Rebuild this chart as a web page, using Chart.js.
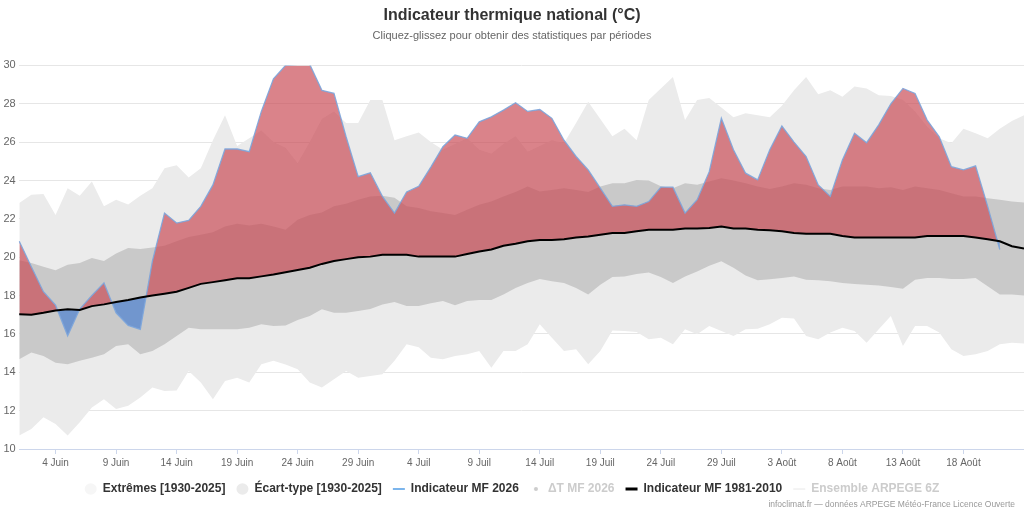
<!DOCTYPE html>
<html>
<head>
<meta charset="utf-8">
<title>Indicateur thermique national</title>
<script src="https://cdn.jsdelivr.net/npm/chart.js@4.4.1/dist/chart.umd.min.js"></script>
<style>
  html, body { margin: 0; padding: 0; background: #fff; }
  #wrap { width: 1024px; height: 512px; }
</style>
</head>
<body>
<div id="wrap"><canvas id="chart"></canvas></div>
<script>
// jours du 1er juin au 23 août
const months = [['Juin', 30], ['Juil', 31], ['Août', 23]];
const days = [];
months.forEach(([m, n]) => { for (let d = 1; d <= n; d++) days.push(d + ' ' + m); });

const tickLabels = ['4 Juin', '9 Juin', '14 Juin', '19 Juin', '24 Juin', '29 Juin', '4 Juil', '9 Juil',
  '14 Juil', '19 Juil', '24 Juil', '29 Juil', '3 Août', '8 Août', '13 Août', '18 Août'];

// Extrêmes [1930-2025]
const extLow = [10.7, 11.04, 11.65, 11.3, 10.7, 11.39, 12.17, 12.6, 12.08, 12.25,
  12.69, 13.2, 13.03, 13.05, 14.07, 13.47, 12.6, 13.55, 13.72, 13.47,
  14.42, 14.6, 14.4, 14.16, 13.47, 13.2, 13.64, 14.07, 13.72, 13.8,
  13.9, 14.6, 15.46, 15.3, 14.76, 14.68, 14.85, 14.94, 15.11, 14.24,
  15.11, 15.11, 15.46, 16.5, 15.8, 15.11, 15.2, 14.42, 15.11, 16.18,
  16.15, 16.1, 15.72, 15.8, 15.46, 16.24, 15.98, 16.41, 16.15, 15.89,
  16.24, 16.27, 16.5, 16.84, 16.8, 15.89, 15.72, 16.07, 16.32, 16.15,
  15.54, 16.24, 16.93, 15.37, 16.41, 16.41, 16.07, 15.2, 14.85, 14.94,
  15.11, 15.46, 15.54, 15.5];
const extHigh = [22.82, 23.25, 23.3, 22.2, 23.6, 23.2, 23.95, 22.65, 23.0, 22.75,
  23.2, 23.6, 24.64, 24.8, 24.15, 24.64, 26.1, 27.4, 25.8, 26.2,
  26.6, 26.0, 25.7, 24.9, 26.0, 27.2, 27.6, 27.0, 27.0, 28.2,
  28.2, 26.1, 26.3, 26.5, 26.0, 25.6, 25.9, 26.2, 25.6, 25.4,
  25.9, 26.3, 25.5, 25.8, 26.1, 25.94, 27.0, 28.1, 27.2, 26.3,
  26.7, 26.1, 28.2, 28.8, 29.4, 27.15, 28.2, 28.3, 27.8, 27.3,
  27.5, 27.4, 27.3, 27.9, 28.7, 29.4, 28.5, 28.7, 28.36, 28.9,
  28.8, 28.45, 28.4, 28.2, 27.6, 26.8, 26.2, 25.94, 26.7, 26.46,
  26.2, 26.7, 27.1, 27.4];

// Écart-type [1930-2025]
const sdLow = [14.68, 15.03, 14.85, 14.5, 14.42, 14.6, 14.76, 14.94, 15.37, 15.46,
  14.94, 15.11, 15.46, 15.89, 16.32, 16.24, 16.24, 16.24, 16.24, 16.32,
  16.5, 16.41, 16.44, 16.72, 16.93, 17.28, 17.1, 17.1, 17.2, 17.3,
  17.54, 17.66, 17.45, 17.45, 17.6, 17.72, 17.5, 17.72, 17.77, 17.77,
  18.05, 18.4, 18.66, 18.86, 18.75, 18.66, 18.4, 18.05, 18.57, 18.97,
  19.0, 19.12, 19.2, 18.97, 18.66, 19.0, 19.26, 19.56, 19.79, 19.45,
  19.05, 18.8, 18.85, 18.92, 19.0, 18.83, 18.8, 18.75, 18.66, 18.6,
  18.57, 18.52, 18.45, 18.35, 18.83, 18.92, 18.92, 18.86, 18.86, 18.92,
  18.49, 18.05, 18.05, 18.0];
const sdHigh = [19.84, 19.7, 19.5, 19.32, 19.6, 19.7, 19.96, 19.8, 20.19, 20.48,
  20.43, 20.5, 20.6, 20.83, 21.05, 21.17, 21.3, 21.6, 21.75, 21.65,
  21.75, 21.6, 21.43, 21.95, 22.2, 22.33, 22.65, 22.79, 23.0, 23.17,
  23.2, 23.1, 22.65, 22.56, 22.4, 22.3, 22.2, 22.48, 22.74, 22.9,
  23.17, 23.4, 23.69, 23.43, 23.5, 23.6, 23.5, 23.4, 23.69, 23.86,
  23.86, 24.03, 24.0, 23.7, 23.6, 23.86, 23.78, 23.95, 24.12, 24.0,
  23.86, 23.69, 23.55, 23.69, 23.86, 23.78, 23.6, 23.5, 23.69, 23.69,
  23.69, 23.6, 23.65, 23.5, 23.69, 23.6, 23.5, 23.34, 23.17, 23.17,
  23.08, 23.0, 22.9, 22.85];

// Indicateur MF 2026
const mf2026 = [20.83, 19.5, 18.2, 17.5, 15.9, 17.3, 18.0, 18.66, 17.1, 16.44,
  16.24, 19.8, 22.3, 21.78, 21.92, 22.65, 23.77, 25.64, 25.64, 25.5,
  27.6, 29.3, 30.0, 30.05, 30.05, 28.7, 28.54, 26.28, 24.2, 24.4,
  23.17, 22.3, 23.4, 23.7, 24.7, 25.76, 26.37, 26.2, 27.06, 27.32,
  27.67, 28.05, 27.6, 27.7, 27.24, 26.1, 25.25, 24.55, 23.6, 22.65,
  22.73, 22.65, 22.9, 23.65, 23.65, 22.3, 23.0, 24.46, 27.24, 25.6,
  24.38, 24.03, 25.6, 26.84, 26.0, 25.25, 23.77, 23.17, 25.07, 26.46,
  25.97, 26.9, 28.0, 28.8, 28.54, 27.15, 26.28, 24.72, 24.55, 24.76,
  22.65, 20.4];

// Indicateur MF 1981-2010
const mfNormal = [17.02, 17.0, 17.1, 17.22, 17.28, 17.25, 17.45, 17.54, 17.66, 17.77,
  17.9, 18.0, 18.1, 18.2, 18.4, 18.61, 18.7, 18.8, 18.9, 18.9,
  19.0, 19.1, 19.22, 19.33, 19.45, 19.65, 19.8, 19.9, 20.0, 20.03,
  20.13, 20.13, 20.13, 20.03, 20.03, 20.03, 20.03, 20.17, 20.3, 20.4,
  20.6, 20.7, 20.83, 20.9, 20.9, 20.94, 21.03, 21.08, 21.17, 21.26,
  21.26, 21.35, 21.43, 21.43, 21.43, 21.5, 21.5, 21.52, 21.6, 21.5,
  21.5, 21.43, 21.4, 21.35, 21.26, 21.22, 21.22, 21.22, 21.1, 21.03,
  21.03, 21.03, 21.03, 21.03, 21.03, 21.1, 21.1, 21.1, 21.1, 21.03,
  20.94, 20.83, 20.57, 20.45];

const creditText = 'infoclimat.fr — données ARPEGE Météo-France Licence Ouverte';

// petit point pour la légende ΔT
const dot = document.createElement('canvas');
dot.width = 6; dot.height = 6;
const dctx = dot.getContext('2d');
dctx.fillStyle = '#cccccc';
dctx.beginPath(); dctx.arc(3, 3, 2, 0, Math.PI * 2); dctx.fill();

const legendItems = [
  { text: 'Extrêmes [1930-2025]', fillStyle: '#f6f6f6', strokeStyle: '#f6f6f6', lineWidth: 0, pointStyle: 'circle', fontColor: '#333' },
  { text: 'Écart-type [1930-2025]', fillStyle: '#ebebeb', strokeStyle: '#ebebeb', lineWidth: 0, pointStyle: 'circle', fontColor: '#333' },
  { text: 'Indicateur MF 2026', fillStyle: '#7cb5ec', strokeStyle: '#7cb5ec', lineWidth: 2, pointStyle: 'line', fontColor: '#333' },
  { text: 'ΔT MF 2026', fillStyle: '#ccc', strokeStyle: '#ccc', lineWidth: 0, pointStyle: dot, fontColor: '#cccccc' },
  { text: 'Indicateur MF 1981-2010', fillStyle: '#000', strokeStyle: '#000', lineWidth: 3, pointStyle: 'line', fontColor: '#333' },
  { text: 'Ensemble ARPEGE 6Z', fillStyle: '#eee', strokeStyle: '#e8e8e8', lineWidth: 1, pointStyle: 'line', fontColor: '#cccccc' }
];

const credits = {
  id: 'credits',
  afterDraw(chart) {
    const c = chart.ctx;
    c.save();
    c.font = '8.5px "Liberation Sans", Arial, sans-serif';
    c.fillStyle = '#999';
    c.textAlign = 'right';
    c.textBaseline = 'middle';
    c.fillText(creditText, chart.width - 9, chart.height - 7);
    c.restore();
  }
};

Chart.defaults.font.family = '"Liberation Sans", Arial, sans-serif';

new Chart(document.getElementById('chart'), {
  type: 'line',
  data: {
    labels: days,
    datasets: [
      { label: 'Indicateur MF 1981-2010', data: mfNormal, borderColor: '#000', borderWidth: 2, pointRadius: 0, fill: false, order: 0 },
      { label: 'Indicateur MF 2026', data: mf2026, borderColor: 'rgba(124,165,220,0.9)', borderWidth: 1.3, pointRadius: 0,
        fill: { target: 0, above: 'rgba(200,72,82,0.68)', below: 'rgba(60,120,210,0.62)' }, order: 1 },
      { label: 'Écart-type haut', data: sdHigh, borderWidth: 0, borderColor: 'transparent', pointRadius: 0,
        backgroundColor: '#c9c9c9', fill: { target: 3 }, order: 2 },
      { label: 'Écart-type bas', data: sdLow, borderWidth: 0, borderColor: 'transparent', pointRadius: 0, fill: false, order: 3 },
      { label: 'Extrêmes haut', data: extHigh, borderWidth: 0, borderColor: 'transparent', pointRadius: 0,
        backgroundColor: '#ebebeb', fill: { target: 5 }, order: 4 },
      { label: 'Extrêmes bas', data: extLow, borderWidth: 0, borderColor: 'transparent', pointRadius: 0, fill: false, order: 5 }
    ]
  },
  options: {
    responsive: true,
    maintainAspectRatio: false,
    animation: false,
    layout: { padding: { left: 0, right: 0, top: 0, bottom: 7 } },
    plugins: {
      title: {
        display: true,
        text: 'Indicateur thermique national (°C)',
        color: '#333',
        font: { size: 16, weight: 'bold' },
        padding: { top: 6, bottom: 4 }
      },
      subtitle: {
        display: true,
        text: 'Cliquez-glissez pour obtenir des statistiques par périodes',
        color: '#666',
        font: { size: 11 },
        padding: { top: 0, bottom: 23 }
      },
      legend: {
        position: 'bottom',
        onClick: null,
        labels: {
          usePointStyle: true,
          boxHeight: 8,
          pointStyleWidth: 12,
          padding: 11,
          color: '#333',
          font: { size: 12, weight: 'bold' },
          generateLabels: () => legendItems.map(it => Object.assign({ hidden: false }, it))
        }
      },
      tooltip: { enabled: false }
    },
    scales: {
      x: {
        grid: { drawOnChartArea: false, tickLength: 5, tickColor: '#ccd6eb' },
        border: { color: '#ccd6eb' },
        ticks: {
          autoSkip: false,
          maxRotation: 0,
          padding: 3,
          color: '#666',
          font: { size: 10 },
          callback(v, i) { return tickLabels.includes(days[i]) ? days[i] : null; }
        }
      },
      y: {
        min: 10,
        max: 30,
        grid: { color: '#e6e6e6', drawTicks: false },
        border: { display: false },
        ticks: { stepSize: 2, padding: 3.5, color: '#666', font: { size: 11 } }
      }
    }
  },
  plugins: [credits]
});
</script>
</body>
</html>
